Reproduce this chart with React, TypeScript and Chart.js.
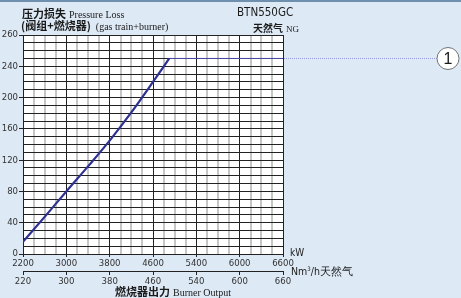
import React, { useEffect, useRef } from 'react';
import { Chart, registerables } from 'chart.js';

Chart.register(...registerables);

// Rising part of the pressure-loss curve: burner output (kW, printed-axis position) vs pressure loss (mbar)
const risingKW = [2200, 2600, 3000, 3400, 3800, 4200, 4600, 4900];
const risingLoss = [15.5, 47.5, 80, 112, 145, 181, 220, 250];
// Flat part of the curve up to the right edge
const plateauKW = [4900, 7000];
const plateauLoss = [250, 250];

// printed tick positions and their labels (the printed axes are not uniformly labelled)
const kwTickValues = [2200, 3000, 3800, 4600, 5400, 6200, 7000];
const kwTickLabels = ['2200', '3000', '3800', '4600', '5400', '6000', '6600'];
const flowTickValues = [220, 300, 380, 460, 540, 620, 700];
const flowTickLabels = ['220', '300', '380', '460', '540', '600', '660'];
const yTickValues = [0, 40, 80, 120, 160, 200, 240, 280];
const yTickLabels = ['0', '40', '80', '120', '160', '200', '240', '260'];
const curveMarker = '1';

const TICK_FONT = { family: "'Liberation Sans Narrow', 'DejaVu Sans Condensed', 'Liberation Sans', sans-serif", size: 9.5 };
const DARK = '#222';

function labelFor(values: number[], labels: string[], v: number) {
  const i = values.findIndex((x) => Math.abs(x - v) < 1e-6);
  return i >= 0 ? labels[i] : '';
}

const decorPlugin = {
  id: 'decor',
  beforeDraw(chart: any) {
    const { ctx, chartArea: a } = chart;
    ctx.save();
    ctx.fillStyle = '#ffffff';
    ctx.fillRect(a.left, a.top, a.right - a.left, a.bottom - a.top);
    ctx.restore();
  },
  afterDraw(chart: any) {
    const { ctx, chartArea: a, scales } = chart;
    const level = plateauLoss[plateauLoss.length - 1];
    const y = Math.round(scales.y.getPixelForValue(level)) + 0.5;
    const r = 11;
    const cx = chart.width - r - 2;
    ctx.save();
    ctx.strokeStyle = '#9a9ae6';
    ctx.lineWidth = 1;
    ctx.setLineDash([1, 1]);
    ctx.beginPath();
    ctx.moveTo(a.right + 1, y);
    ctx.lineTo(cx - r, y);
    ctx.stroke();
    ctx.setLineDash([]);
    ctx.beginPath();
    ctx.arc(cx, y, r, 0, Math.PI * 2);
    ctx.fillStyle = '#ffffff';
    ctx.fill();
    ctx.strokeStyle = '#707070';
    ctx.lineWidth = 1;
    ctx.stroke();
    ctx.fillStyle = '#1a1a1a';
    ctx.font = "16px 'Liberation Sans', sans-serif";
    ctx.textAlign = 'center';
    ctx.textBaseline = 'middle';
    ctx.fillText(curveMarker, cx, y + 1);
    ctx.restore();
  },
};

export default function App() {
  const ref = useRef<HTMLCanvasElement | null>(null);

  useEffect(() => {
    if (!ref.current) return;
    const chart = new Chart(ref.current, {
      type: 'line',
      data: {
        datasets: [
          {
            data: risingKW.map((x, i) => ({ x, y: risingLoss[i] })),
            borderColor: '#2e3192',
            borderWidth: 2.2,
            pointRadius: 0,
            cubicInterpolationMode: 'monotone',
            fill: false,
          },
          {
            data: plateauKW.map((x, i) => ({ x, y: plateauLoss[i] })),
            borderColor: '#4b4ba8',
            borderWidth: 1,
            pointRadius: 0,
            tension: 0,
            fill: false,
          },
        ],
      },
      options: {
        animation: false,
        responsive: false,
        maintainAspectRatio: false,
        layout: { padding: { left: 0, right: 178, top: 35, bottom: 10 } },
        plugins: { legend: { display: false }, tooltip: { enabled: false }, title: { display: false } },
        scales: {
          x: {
            type: 'linear',
            position: 'bottom',
            weight: 0,
            min: 2200,
            max: 7000,
            afterFit: (s: any) => {
              s.height = 17;
            },
            ticks: {
              stepSize: 200,
              autoSkip: false,
              maxRotation: 0,
              padding: 1,
              color: '#333',
              font: TICK_FONT,
              callback: (v: any) => labelFor(kwTickValues, kwTickLabels, Number(v)),
            },
            grid: {
              color: (c: any) => ((c.tick.value - 2200) % 800 === 0 ? DARK : '#c6c6c6'),
              lineWidth: (c: any) => ((c.tick.value - 2200) % 800 === 0 ? 1 : 2),
              tickColor: (c: any) => (labelFor(kwTickValues, kwTickLabels, c.tick.value) ? DARK : 'rgba(0,0,0,0)'),
              tickLength: 3,
              tickWidth: 1,
            },
            border: { color: DARK, width: 1 },
          },
          x2: {
            type: 'linear',
            position: 'bottom',
            weight: 1,
            min: 220,
            max: 700,
            afterFit: (s: any) => {
              s.height = 17;
            },
            ticks: {
              stepSize: 80,
              autoSkip: false,
              maxRotation: 0,
              padding: 1,
              color: '#333',
              font: TICK_FONT,
              callback: (v: any) => labelFor(flowTickValues, flowTickLabels, Number(v)),
            },
            grid: {
              drawOnChartArea: false,
              color: DARK,
              tickColor: (c: any) => (labelFor(flowTickValues, flowTickLabels, c.tick.value) ? DARK : 'rgba(0,0,0,0)'),
              tickLength: 4,
            },
            border: { color: DARK, width: 1 },
          },
          y: {
            type: 'linear',
            min: 0,
            max: 280,
            afterFit: (s: any) => {
              s.width = 23;
            },
            ticks: {
              stepSize: 10,
              autoSkip: false,
              padding: 1,
              color: '#333',
              font: TICK_FONT,
              callback: (v: any) => labelFor(yTickValues, yTickLabels, Number(v)),
            },
            grid: {
              color: DARK,
              lineWidth: 1,
              tickColor: (c: any) => (labelFor(yTickValues, yTickLabels, c.tick.value) ? DARK : 'rgba(0,0,0,0)'),
              tickLength: 4,
            },
            border: { color: DARK, width: 1 },
          },
        },
      },
      plugins: [decorPlugin],
    });
    return () => chart.destroy();
  }, []);

  const cjk = "'Noto Sans CJK SC', sans-serif";
  const serif = "'Liberation Serif', serif";
  const narrow = "'Liberation Sans Narrow', 'DejaVu Sans Condensed', 'Liberation Sans', sans-serif";
  const abs = (left: number, top: number): React.CSSProperties => ({
    position: 'absolute',
    left,
    top,
    whiteSpace: 'nowrap',
    lineHeight: '12px',
    color: '#1a1a1a',
  });

  return (
    <div
      style={{
        position: 'absolute',
        left: 0,
        top: 0,
        width: 461,
        height: 298,
        overflow: 'hidden',
        background: '#dde9f5',
        borderTop: '2px solid #6f8fae',
        boxSizing: 'border-box',
      }}
    >
      <canvas ref={ref} width={461} height={298} style={{ position: 'absolute', left: 0, top: -2, display: 'block' }} />
      <div style={abs(22, 5)}>
        <span style={{ fontFamily: cjk, fontWeight: 700, fontSize: 11 }}>压力损失</span>
        <span style={{ fontFamily: serif, fontSize: 10, marginLeft: 3 }}>Pressure Loss</span>
      </div>
      <div style={abs(21, 17)}>
        <span style={{ fontFamily: cjk, fontWeight: 700, fontSize: 11 }}>(阀组+燃烧器)</span>
        <span style={{ fontFamily: serif, fontSize: 10, marginLeft: 5 }}>(gas train+burner)</span>
      </div>
      <div style={{ ...abs(237, 4), fontFamily: narrow, fontSize: 11.5 }}>BTN550GC</div>
      <div style={abs(253, 19)}>
        <span style={{ fontFamily: cjk, fontWeight: 700, fontSize: 10 }}>天然气</span>
        <span style={{ fontFamily: serif, fontSize: 9, marginLeft: 3 }}>NG</span>
      </div>
      <div style={{ ...abs(290, 245), fontFamily: narrow, fontSize: 10 }}>kW</div>
      <div style={{ ...abs(291, 263), fontFamily: narrow, fontSize: 10.5 }}>
        Nm<sup style={{ fontSize: 6, verticalAlign: 'top', lineHeight: '8px' }}>3</sup>/h天然气
      </div>
      <div style={abs(115, 283)}>
        <span style={{ fontFamily: cjk, fontWeight: 700, fontSize: 11 }}>燃烧器出力</span>
        <span style={{ fontFamily: serif, fontSize: 10, marginLeft: 3 }}>Burner Output</span>
      </div>
    </div>
  );
}
